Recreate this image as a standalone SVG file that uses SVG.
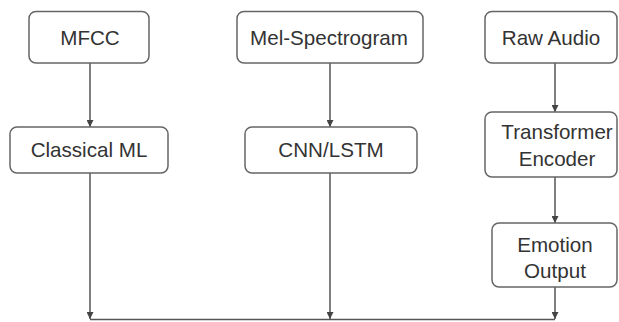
<svg xmlns="http://www.w3.org/2000/svg" width="619" height="322" viewBox="0 0 619 322">
<style>
.box{fill:#fff;stroke:#666;stroke-width:1.5}
.t{font-family:"Liberation Sans",Arial,sans-serif;font-size:20.6px;fill:#333;text-anchor:middle}
.c{fill:none;stroke:#555;stroke-width:1.5}
</style>
<defs>
<marker id="ah" viewBox="0 0 10 10" refX="10" refY="5" markerWidth="7" markerHeight="7" markerUnits="userSpaceOnUse" orient="auto">
<path d="M0,0L10,5L0,10z" fill="#444"/>
</marker>
</defs>
<rect width="619" height="322" fill="#fff"/>
<g id="connectors">
<line class="c" x1="90" y1="63" x2="90" y2="127" marker-end="url(#ah)"/>
<line class="c" x1="330" y1="63" x2="330" y2="127" marker-end="url(#ah)"/>
<line class="c" x1="555" y1="63" x2="555" y2="112" marker-end="url(#ah)"/>
<line class="c" x1="555" y1="177" x2="555" y2="223" marker-end="url(#ah)"/>
<line class="c" x1="90" y1="173" x2="90" y2="319" marker-end="url(#ah)"/>
<line class="c" x1="330" y1="173" x2="330" y2="319" marker-end="url(#ah)"/>
<line class="c" x1="555" y1="287" x2="555" y2="319" marker-end="url(#ah)"/>
<line class="c" x1="90" y1="319.5" x2="555" y2="319.5"/>
</g>
<g id="mfcc"><rect class="box" x="29" y="11.5" width="120" height="51.5" rx="7"/><text class="t" x="90" y="45">MFCC</text></g>
<g id="mel"><rect class="box" x="237" y="11.5" width="186" height="51.5" rx="7"/><text class="t" x="329" y="45">Mel-Spectrogram</text></g>
<g id="raw"><rect class="box" x="485" y="11.5" width="132" height="51.5" rx="7"/><text class="t" x="551" y="45">Raw Audio</text></g>
<g id="classical"><rect class="box" x="10" y="127" width="158" height="46" rx="7"/><text class="t" x="89" y="157">Classical ML</text></g>
<g id="cnn"><rect class="box" x="245" y="127" width="172" height="46" rx="7"/><text class="t" x="331" y="157">CNN/LSTM</text></g>
<g id="transformer"><rect class="box" x="485" y="112" width="132" height="65" rx="7"/><text class="t" x="557" y="139">Transformer</text><text class="t" x="557" y="166">Encoder</text></g>
<g id="emotion"><rect class="box" x="492" y="223" width="125" height="64" rx="7"/><text class="t" x="555" y="252">Emotion</text><text class="t" x="555" y="278">Output</text></g>
</svg>
